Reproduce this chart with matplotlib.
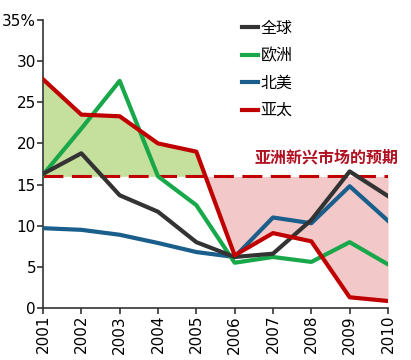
import numpy as np
import matplotlib
matplotlib.use("Agg")
import matplotlib.pyplot as plt

plt.rcParams['font.family'] = ['Noto Sans CJK SC', 'DejaVu Sans']

years = [2001, 2002, 2003, 2004, 2005, 2006, 2007, 2008, 2009, 2010]
world = [16.3, 18.8, 13.7, 11.7, 8.0, 6.2, 6.6, 10.7, 16.6, 13.6]
europe = [16.2, 21.8, 27.6, 16.0, 12.5, 5.5, 6.2, 5.6, 8.0, 5.3]
namerica = [9.7, 9.5, 8.9, 7.9, 6.8, 6.2, 11.0, 10.3, 14.8, 10.6]
asiapac = [27.8, 23.5, 23.3, 20.0, 19.0, 6.4, 9.1, 8.1, 1.3, 0.85]
expect = 16.0

fig = plt.figure(figsize=(4.11, 3.6), dpi=100)
ax = fig.add_axes([43/411, 52/360, 345/411, 288/360])

x = np.array(years)
red = np.array(asiapac)
ax.fill_between(x, red, expect, where=red >= expect, interpolate=True, color='#c5df9c', lw=0)
ax.fill_between(x, red, expect, where=red < expect, interpolate=True, color='#f2c8c8', lw=0)
ax.axhline(expect, color='#c00000', lw=2.2, dashes=(6.5, 2.8))

ax.plot(x, namerica, color='#1a5e8c', lw=3, label='北美', zorder=3)
ax.plot(x, europe, color='#18a84a', lw=3, label='欧洲', zorder=3)
ax.plot(x, world, color='#333333', lw=3, label='全球', zorder=3)
ax.plot(x, asiapac, color='#c00000', lw=3, label='亚太', zorder=4)

h, l = ax.get_legend_handles_labels()
order = [2, 1, 0, 3]
ax.legend([h[i] for i in order], [l[i] for i in order], loc='upper left',
          bbox_to_anchor=(0.535, 1.05), frameon=False, handlelength=1.0,
          handletextpad=0.15, labelspacing=0.65, fontsize=11.5)

ax.text(2010.27, expect + 1.3, '亚洲新兴市场的预期', color='#b01020', fontsize=11.5,
        fontweight='bold', ha='right', va='bottom')

ax.set_xlim(2001, 2010)
ax.set_ylim(0, 35)
ax.set_xticks(years)
ax.set_xticklabels([str(y) for y in years], rotation=90, fontsize=11, family='DejaVu Sans')
ax.set_yticks(range(0, 36, 5))
ax.set_yticklabels(['0', '5', '10', '15', '20', '25', '30', '35%'], fontsize=11, family='DejaVu Sans')
for s in ['top', 'right']:
    ax.spines[s].set_visible(False)
for s in ['left', 'bottom']:
    ax.spines[s].set_color('#333333')
    ax.spines[s].set_linewidth(1.2)
ax.tick_params(direction='out', length=4, width=1.2, color='#333333', pad=1)

fig.savefig('out.png', dpi=100)
